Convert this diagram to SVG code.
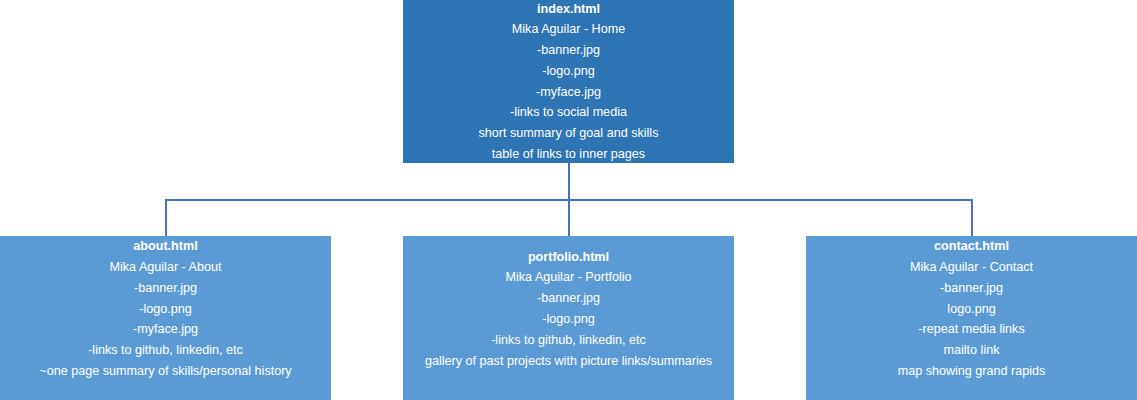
<svg xmlns="http://www.w3.org/2000/svg" width="1137" height="400" viewBox="0 0 1137 400">
<style>
.top{fill:#2E75B6}
.child{fill:#5B9BD5}
text{font-family:"Liberation Sans",Arial,sans-serif;font-size:12.6px;fill:#FFFFFF;text-anchor:middle}
.b{font-weight:bold}
.conn{stroke:#4472C4;stroke-width:2;fill:none}
</style>
<rect width="1137" height="400" fill="#FFFFFF"/>
<g id="connectors">
<path class="conn" d="M569,163 V200 M166,236 V200 H972 V236 M569,200 V236"/>
</g>
<g id="index">
<rect class="top" x="403" y="0" width="331" height="163"/>
<text x="568.5" y="12.7" class="b">index.html</text>
<text x="568.5" y="33.4">Mika Aguilar - Home</text>
<text x="568.5" y="54.2">-banner.jpg</text>
<text x="568.5" y="74.9">-logo.png</text>
<text x="568.5" y="95.6">-myface.jpg</text>
<text x="568.5" y="116.3">-links to social media</text>
<text x="568.5" y="137">short summary of goal and skills</text>
<text x="568.5" y="157.7">table of links to inner pages</text>
</g>
<g id="about">
<rect class="child" x="0" y="236" width="331" height="164"/>
<text x="165.5" y="250.2" class="b">about.html</text>
<text x="165.5" y="271">Mika Aguilar - About</text>
<text x="165.5" y="291.8">-banner.jpg</text>
<text x="165.5" y="312.6">-logo.png</text>
<text x="165.5" y="333.4">-myface.jpg</text>
<text x="165.5" y="354.2">-links to github, linkedin, etc</text>
<text x="165.5" y="375">~one page summary of skills/personal history</text>
</g>
<g id="portfolio">
<rect class="child" x="403" y="236" width="331" height="164"/>
<text x="568.5" y="260.5" class="b">portfolio.html</text>
<text x="568.5" y="281.3">Mika Aguilar - Portfolio</text>
<text x="568.5" y="302.1">-banner.jpg</text>
<text x="568.5" y="322.9">-logo.png</text>
<text x="568.5" y="343.7">-links to github, linkedin, etc</text>
<text x="568.5" y="364.5">gallery of past projects with picture links/summaries</text>
</g>
<g id="contact">
<rect class="child" x="806" y="236" width="331" height="164"/>
<text x="971.5" y="250.2" class="b">contact.html</text>
<text x="971.5" y="271">Mika Aguilar - Contact</text>
<text x="971.5" y="291.8">-banner.jpg</text>
<text x="971.5" y="312.6">logo.png</text>
<text x="971.5" y="333.4">-repeat media links</text>
<text x="971.5" y="354.2">mailto link</text>
<text x="971.5" y="375">map showing grand rapids</text>
</g>
</svg>
